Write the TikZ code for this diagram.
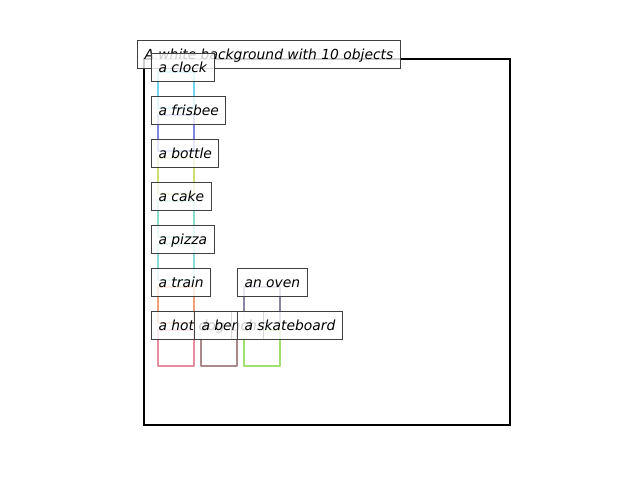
\documentclass[tikz,border=0pt]{standalone}
\usepackage{fontspec}
\setmainfont{DejaVu Sans}
\definecolor{cclock}{HTML}{70D8EC}
\definecolor{cfris}{HTML}{8088E6}
\definecolor{cbott}{HTML}{CCE072}
\definecolor{ccake}{HTML}{88DCD0}
\definecolor{cpizz}{HTML}{8ADCD6}
\definecolor{ctrain}{HTML}{EDA276}
\definecolor{chot}{HTML}{E88CA0}
\definecolor{cbench}{HTML}{A88A8A}
\definecolor{coven}{HTML}{8A86A2}
\definecolor{cskate}{HTML}{A0E070}
\tikzset{
  objbox/.style={line width=1.8pt, line join=round},
  lbl/.style={anchor=base west, draw=black!75, line width=0.75pt, fill=white, fill opacity=0.8, text opacity=1,
    inner xsep=5.25pt, inner ysep=3pt, text height=10.9pt, text depth=4.1pt,
    font=\fontsize{10.4pt}{12pt}\selectfont\itshape},
}
\begin{document}
\begin{tikzpicture}[x=0.75pt,y=-0.75pt]
\useasboundingbox (0,0) rectangle (640,480);
% frame
\draw[line width=1.8pt] (144,59) rectangle (510,425);
% title
\node[lbl] (title) at (137,59) {A white background with 10 objects};
% object boxes
\draw[objbox, cclock] (158,72) rectangle (194,108);
\draw[objbox, cfris]  (158,115) rectangle (194,151);
\draw[objbox, cbott]  (158,158) rectangle (194,194);
\draw[objbox, ccake]  (158,201) rectangle (194,237);
\draw[objbox, cpizz]  (158,244) rectangle (194,280);
\draw[objbox, ctrain] (158,287) rectangle (194,323);
\draw[objbox, chot]   (158,330) rectangle (194,366);
\draw[objbox, cbench] (201,330) rectangle (237,366);
\draw[objbox, coven]  (244,287) rectangle (280,323);
\draw[objbox, cskate] (244,330) rectangle (280,366);
% labels
\node[lbl] (clock) at (151,72) {a clock};
\node[lbl] (frisbee) at (151,115) {a frisbee};
\node[lbl] (bottle) at (151,158) {a bottle};
\node[lbl] (cake) at (151,201) {a cake};
\node[lbl] (pizza) at (151,244) {a pizza};
\node[lbl] (train) at (151,287) {a train};
\node[lbl] (oven) at (237,287) {an oven};
\node[lbl] (hotdog) at (151,330) {a hot dog};
\node[lbl] (bench) at (194,330) {a bench};
\node[lbl] (skate) at (237,330) {a skateboard};
\end{tikzpicture}
\end{document}
